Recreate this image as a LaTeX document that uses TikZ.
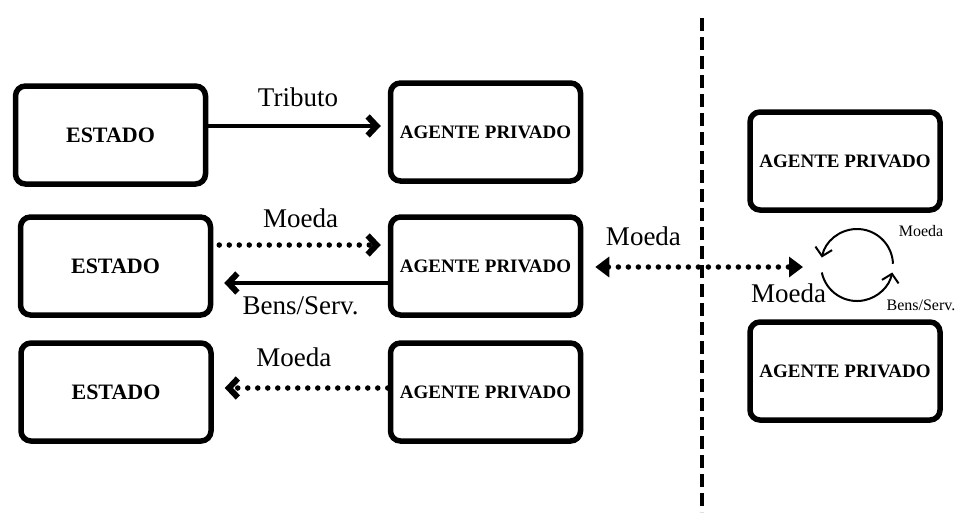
\documentclass[tikz,border=0pt]{standalone}
\usepackage{fontspec}
\setmainfont{Liberation Serif}
\usetikzlibrary{arrows.meta}

\tikzset{
	caixa/.style={draw,line width=5.5pt,rounded corners=10pt,minimum width=190pt,minimum height=98pt,inner sep=0pt},
	rotulo/.style={font=\fontsize{27}{30}\selectfont,inner sep=0pt},
	pequeno/.style={font=\fontsize{16}{18}\selectfont,inner sep=0pt},
	ponta/.style={-{Straight Barb[length=9pt,width=19pt,line width=6pt]}},
	cheia/.style={draw,line width=3.5pt,ponta},
	pontos/.style={draw,line width=5.5pt,line cap=round,dash pattern=on 0pt off 10pt},
}

\begin{document}
\begin{tikzpicture}[x=1pt,y=-1pt]
			\useasboundingbox (0,0) rectangle (957,512);

			\begin{scope}[every node/.style={caixa,font=\fontsize{22}{24}\selectfont\bfseries}]
				\node (E1) at (110.5,135) {ESTADO};
				\node (E2) at (115.5,266) {ESTADO};
				\node (E3) at (116,392) {ESTADO};
			\end{scope}

			\begin{scope}[every node/.style={caixa,font=\fontsize{19}{22}\selectfont\bfseries}]
				\node (A1) at (485.5,132) {AGENTE PRIVADO};
				\node (A2) at (485.5,266) {AGENTE PRIVADO};
				\node (A3) at (485.5,392) {AGENTE PRIVADO};
				\node (R1) at (845,161) {AGENTE PRIVADO};
				\node (R2) at (845,371) {AGENTE PRIVADO};
			\end{scope}

			\coordinate (ciclo) at (857,265);
			\coordinate (topo) at (702,18);
			\coordinate (base) at (702,512);

			% fronteira
			\draw [line width=3.8pt,dash pattern=on 13pt off 6pt] (topo) -- (base);

			\begin{scope}[every edge/.style={cheia}]
				\path (E1.east |- 0,126) edge [shorten <=-2pt,shorten >=7pt] node [rotulo,above=17pt] {Tributo} (A1.west |- 0,126);
				\path (A2.west |- 0,283) edge [shorten >=11pt] node [rotulo,below=12pt] {Bens/Serv.} (E2.east |- 0,283);
			\end{scope}

			\begin{scope}[every edge/.style={pontos,ponta}]
				\path (E2.east |- 0,245) edge [shorten <=6pt,shorten >=7pt] node [rotulo,above=14pt] {Moeda} (A2.west |- 0,245);
				\path (A3.west |- 0,388) edge [shorten >=11pt] node [rotulo,above=18pt,xshift=-7pt] {Moeda} (E3.east |- 0,388);
				\path (A2.east |- 0,267) edge [{Triangle[length=14pt,width=20pt]}-{Triangle[length=14pt,width=20pt]},shorten <=12pt,shorten >=54pt]
					node [rotulo,pos=0.22,above=18pt] {Moeda}
					node [rotulo,pos=0.75,below=14pt] {Moeda} (ciclo |- 0,267);
			\end{scope}

			% troca entre agentes
			\draw [line width=2pt,-{Straight Barb[length=8pt,width=17pt]}] (ciclo) ++(358:36) arc [start angle=358,end angle=192,radius=36];
			\draw [line width=2pt,-{Straight Barb[length=8pt,width=17pt]}] (ciclo) ++(168:36) arc [start angle=168,end angle=12,radius=36];
			\node [pequeno] (lbM) at (921,231) {Moeda};
			\node [pequeno] (lbB) at (921,305) {Bens/Serv.};
		\end{tikzpicture}
\end{document}
